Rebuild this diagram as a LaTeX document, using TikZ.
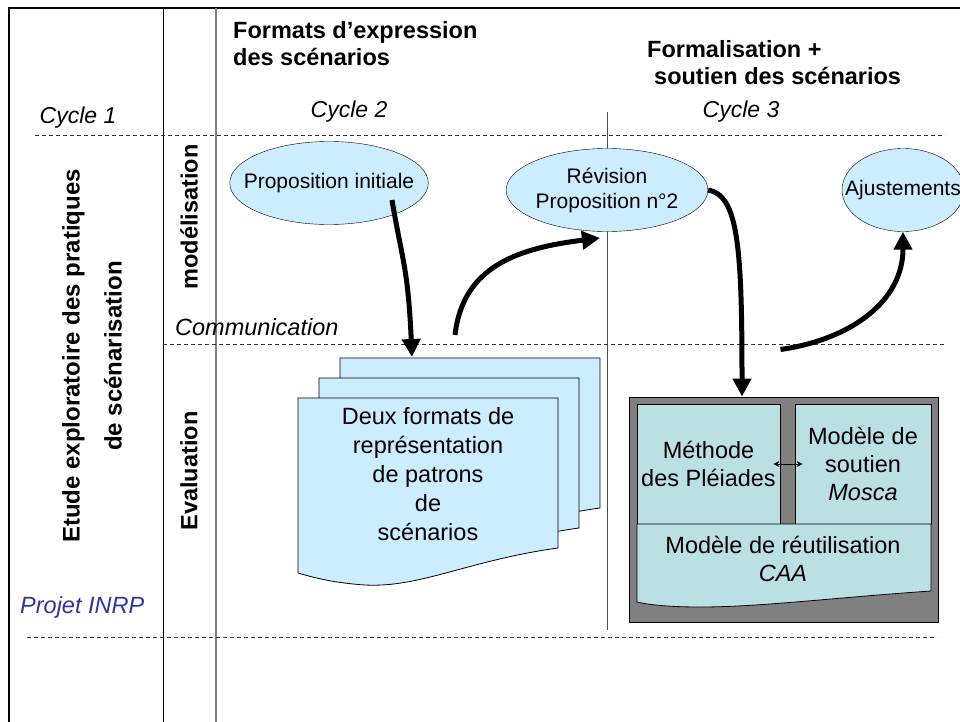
\documentclass[tikz,border=0pt]{standalone}
\usepackage{fontspec}
\setmainfont{Liberation Sans}
\usepackage{xcolor}
\usetikzlibrary{arrows.meta,shapes.geometric,positioning}
\definecolor{bleuclair}{HTML}{CCECFF}
\definecolor{vertdeau}{HTML}{BBE0E3}
\definecolor{grisboite}{HTML}{808080}
\definecolor{bleuprojet}{HTML}{333399}

\begin{document}
\begin{tikzpicture}[x=1pt,y=-1pt,
    grand/.style={font=\fontsize{23.5}{28}\selectfont},
    titre/.style={font=\fontsize{23.5}{27}\selectfont\bfseries,align=left,inner sep=0},
    cycle label/.style={font=\fontsize{23}{28}\selectfont\itshape,inner sep=0},
    bulle/.style={ellipse,draw,fill=bleuclair,inner sep=0,minimum width=197,minimum height=83,
        font=\fontsize{21}{25}\selectfont,align=center},
    feuille/.style={draw,fill=bleuclair,line width=0.8},
    case/.style={draw,fill=vertdeau,line width=0.8,align=center,grand},
    pointille/.style={dash pattern=on 4pt off 3pt,line width=0.8,black!80},
    fleche/.style={line width=5pt,-{Triangle[length=18pt,width=18pt]}}]

    \useasboundingbox (0,0) rectangle (960,722);

    % cadre et colonnes
    \draw[line width=2.5] (9,722) -- (9,8) -- (962,8);
    \draw[line width=1] (163,8) -- (163,722);
    \draw[line width=1.5,grisboite] (216,8) -- (216,722);
    \draw[line width=1,black!70] (607,112) -- (607,630);
    \draw[pointille] (35,135) -- (945,135);
    \draw[pointille] (163,344) -- (945,344);
    \draw[pointille] (27,637) -- (937,637);

    % titres
    \node[titre,anchor=west] (formats) at (233,44) {Formats d’expression\\des scénarios};
    \node[titre,anchor=west] (formalis) at (647,63) {Formalisation +\\\hspace*{7pt}soutien des scénarios};
    \node[cycle label,anchor=base] (c1) at (78,124) {Cycle 1};
    \node[cycle label,anchor=base] (c2) at (349,118) {Cycle 2};
    \node[cycle label,anchor=base] (c3) at (741,118) {Cycle 3};
    \node[cycle label,font=\fontsize{23.5}{28}\selectfont\itshape,anchor=base west] (comm) at (175,335) {Communication};
    \node[cycle label,font=\fontsize{23.5}{28}\selectfont\itshape,text=bleuprojet,anchor=base west] (inrp) at (20,613) {Projet INRP};

    \node[titre,rotate=90,align=center,font=\fontsize{24}{42}\selectfont\bfseries] (etude) at (92,356)
        {Etude exploratoire des pratiques\\de scénarisation};
    \node[titre,rotate=90] (modl) at (189,217) {modélisation};
    \node[titre,rotate=90] (evalu) at (189,471) {Evaluation};

    % propositions
    \node[bulle,inner xsep=-15pt] (init) at (329,183) {Proposition initiale};
    \node[bulle] (revis) at (607,190) {Révision\\Proposition n°2};
    \node[bulle,inner xsep=-15pt,minimum width=122] (ajust) at (903,190) {Ajustements};

    % pile de feuilles
    \foreach \dx/\dy in {42/-40,21/-20,0/0}
        \filldraw[feuille,shift={(\dx,\dy)}] (298,398) -- (558,398) -- (558,548)
            .. controls (470,560) and (420,588) .. (365,585)
            .. controls (335,583) and (315,578) .. (298,573) -- cycle;
    \node[align=center,font=\fontsize{23.5}{29}\selectfont] (deux) at (428,474)
        {Deux formats de\\représentation\\de patrons\\de\\scénarios};
    \coordinate (pile) at (412,357);

    % boite grise
    \node[draw,fill=grisboite,line width=1,minimum width=309,minimum height=225] (boite) at (783.5,509.5) {};
    \node[case,minimum width=143,minimum height=120] (meth) at (708.5,464) {Méthode\\des Pléiades};
    \node[case,minimum width=136,minimum height=120] (mosca) at (863,464) {Modèle de\\soutien\\\textit{Mosca}};
    \filldraw[fill=vertdeau,line width=0.8] (637,524) -- (931,524) -- (931,591)
        .. controls (830,598) and (760,607) .. (700,607)
        .. controls (670,607) and (650,605) .. (637,602) -- cycle;
    \node[grand,align=center] (caa) at (783,559) {Modèle de réutilisation\\\textit{CAA}};
    \draw[line width=0.8,{Stealth[length=6pt,width=6pt]}-{Stealth[length=6pt,width=6pt]}]
        ([xshift=-7pt]meth.east) -- ([xshift=8pt]mosca.west);

    % fleches
    \draw[fleche] ([shift={(63,17)}]init.center) .. controls +(10,60) and +(-4,-90) .. (pile);
    \draw[fleche] ([shift={(43,-22)}]pile) .. controls +(8,-70) and +(-80,10) .. ([shift={(-7,48)}]revis.center);
    \draw[fleche] (revis.east) .. controls +(30,5) and +(0,-150) .. ([xshift=-41.5pt]boite.north);
    \draw[fleche] ([shift={(-3,-47)}]boite.north) .. controls +(70,-10) and +(0,70) .. (ajust.south);

\end{tikzpicture}
\end{document}
